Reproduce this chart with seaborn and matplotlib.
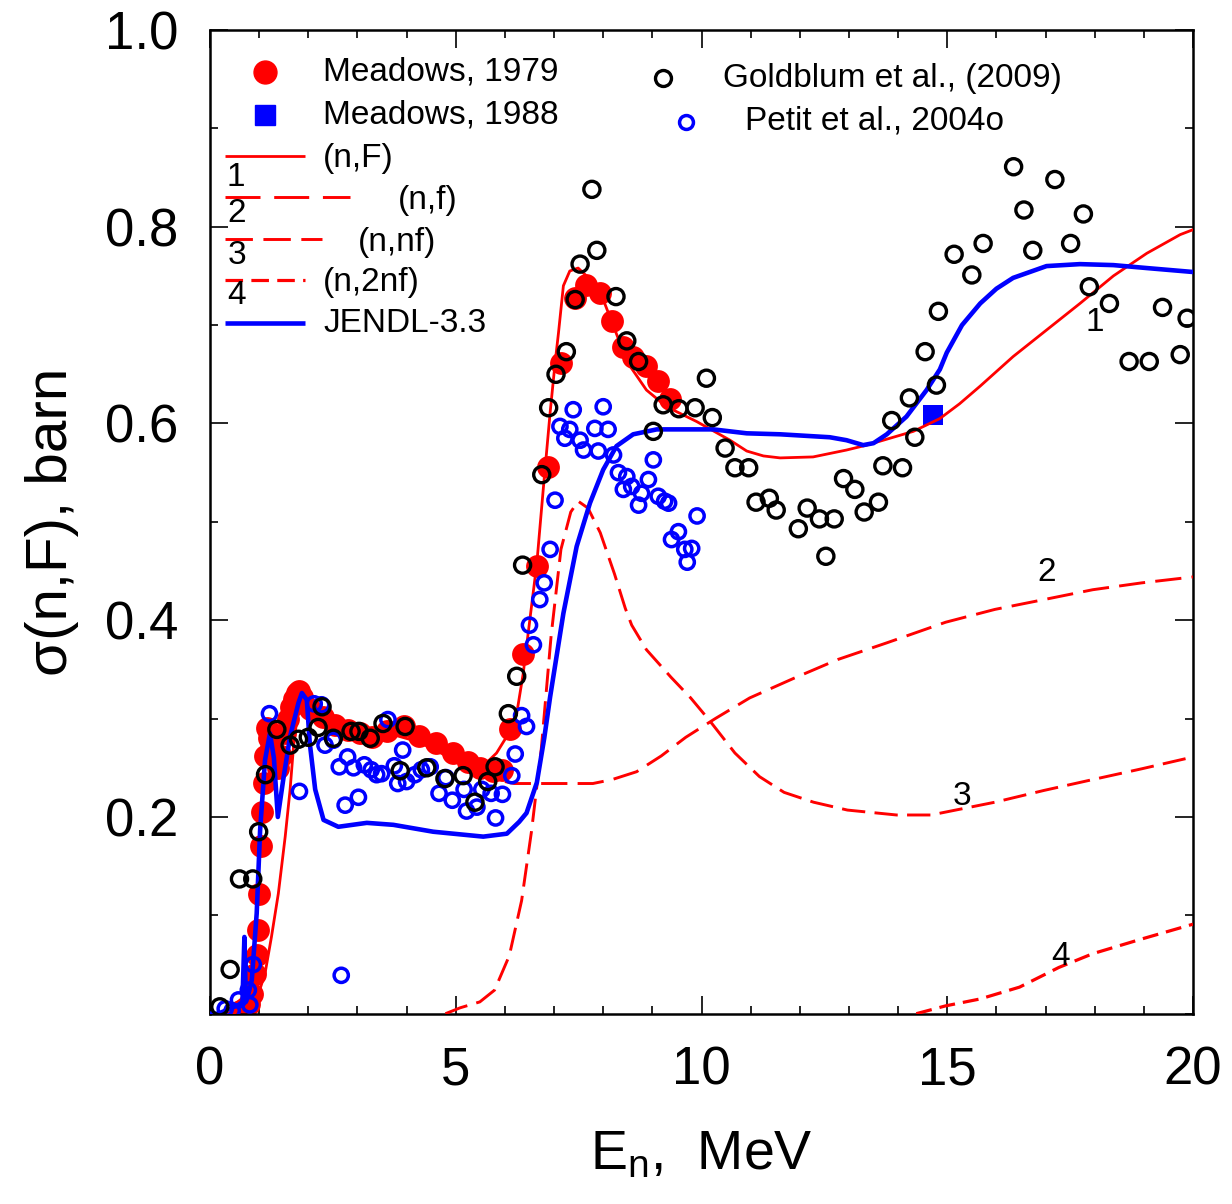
import numpy as np
import pandas as pd
import matplotlib
matplotlib.use("Agg")
import matplotlib.pyplot as plt
import seaborn as sns

# ---------------- data ----------------
meadows79_x = [0.62, 0.72, 0.80, 0.86, 0.92, 0.95, 0.98, 1.00, 1.03, 1.06, 1.09, 1.12, 1.15, 1.20, 1.25,
               1.30, 1.38, 1.45, 1.52, 1.58, 1.64, 1.70, 1.76, 1.82, 1.88, 2.03, 2.30, 2.55, 2.80, 3.05,
               3.30, 3.60, 3.95, 4.25, 4.60, 4.95, 5.25, 5.50, 5.75, 5.95, 6.10, 6.37, 6.65, 6.88, 7.14,
               7.43, 7.66, 7.93, 8.17, 8.41, 8.61, 8.88, 9.12, 9.36]
meadows79_y = [0.003, 0.006, 0.010, 0.020, 0.040, 0.060, 0.085, 0.122, 0.170, 0.205, 0.235, 0.262, 0.290,
               0.280, 0.270, 0.260, 0.250, 0.262, 0.285, 0.300, 0.312, 0.320, 0.326, 0.328, 0.322, 0.310,
               0.302, 0.293, 0.288, 0.285, 0.281, 0.287, 0.292, 0.282, 0.275, 0.265, 0.256, 0.250, 0.247,
               0.248, 0.289, 0.366, 0.455, 0.556, 0.661, 0.728, 0.741, 0.733, 0.704, 0.678, 0.668, 0.658,
               0.643, 0.625]

meadows88_x = [14.71]
meadows88_y = [0.609]

goldblum_x = [0.20, 0.41, 0.60, 0.87, 0.99, 1.13, 1.36, 1.63, 1.80, 2.00, 2.20, 2.28, 2.51, 2.87, 3.03,
              3.26, 3.52, 3.97, 3.87, 4.41, 4.78, 5.15, 5.39, 5.65, 5.80, 6.07, 6.24, 6.36, 6.75, 6.89,
              7.04, 7.25, 7.43, 7.53, 7.77, 7.87, 8.26, 8.48, 8.72, 9.02, 9.22, 9.54, 9.87, 10.10, 10.22,
              10.48, 10.68, 10.96, 11.11, 11.38, 11.52, 11.97, 12.15, 12.40, 12.53, 12.70, 12.89, 13.12,
              13.31, 13.60, 13.69, 13.87, 14.09, 14.23, 14.34, 14.55, 14.78, 14.82, 15.14, 15.50, 15.73,
              16.35, 16.56, 16.74, 17.19, 17.51, 17.77, 17.89, 18.30, 18.70, 19.11, 19.38, 19.74, 19.88]
goldblum_y = [0.007, 0.045, 0.137, 0.137, 0.185, 0.243, 0.289, 0.273, 0.279, 0.281, 0.291, 0.312, 0.280,
              0.287, 0.287, 0.280, 0.295, 0.292, 0.247, 0.250, 0.239, 0.242, 0.215, 0.236, 0.251, 0.305,
              0.343, 0.456, 0.548, 0.616, 0.650, 0.673, 0.726, 0.762, 0.838, 0.776, 0.729, 0.684, 0.663,
              0.592, 0.619, 0.615, 0.616, 0.646, 0.606, 0.575, 0.555, 0.555, 0.520, 0.524, 0.512, 0.493,
              0.514, 0.503, 0.465, 0.503, 0.544, 0.533, 0.510, 0.520, 0.557, 0.603, 0.555, 0.626, 0.586,
              0.673, 0.639, 0.714, 0.772, 0.751, 0.783, 0.861, 0.817, 0.776, 0.848, 0.783, 0.813, 0.739,
              0.722, 0.663, 0.663, 0.718, 0.670, 0.707]

petit_x = [0.31, 0.45, 0.58, 0.78, 0.81, 0.88, 1.21, 1.82, 2.12, 2.27, 2.34, 2.51, 2.63, 2.67, 2.75, 2.80,
           2.92, 3.02, 3.14, 3.28, 3.39, 3.49, 3.62, 3.75, 3.82, 3.92, 4.00, 4.17, 4.30, 4.48, 4.66, 4.80,
           4.93, 5.17, 5.22, 5.43, 5.53, 5.72, 5.81, 5.95, 6.14, 6.21, 6.34, 6.44, 6.50, 6.58, 6.71, 6.80,
           6.92, 7.02, 7.12, 7.22, 7.32, 7.39, 7.53, 7.60, 7.83, 7.90, 8.00, 8.10, 8.21, 8.31, 8.41, 8.48,
           8.58, 8.72, 8.78, 8.92, 9.02, 9.12, 9.25, 9.33, 9.39, 9.53, 9.66, 9.71, 9.80, 9.91]
petit_y = [0.005, 0.003, 0.014, 0.024, 0.009, 0.050, 0.305, 0.226, 0.315, 0.314, 0.273, 0.278, 0.251, 0.039,
           0.212, 0.261, 0.250, 0.220, 0.253, 0.248, 0.243, 0.244, 0.299, 0.252, 0.234, 0.268, 0.236, 0.243,
           0.248, 0.251, 0.224, 0.240, 0.217, 0.228, 0.206, 0.210, 0.228, 0.224, 0.199, 0.223, 0.242, 0.264,
           0.303, 0.292, 0.395, 0.375, 0.421, 0.438, 0.472, 0.522, 0.597, 0.585, 0.594, 0.614, 0.583, 0.573,
           0.595, 0.572, 0.617, 0.594, 0.568, 0.550, 0.533, 0.546, 0.536, 0.517, 0.529, 0.543, 0.563, 0.526,
           0.521, 0.519, 0.482, 0.490, 0.472, 0.459, 0.473, 0.506]

# curve 1: (n,F)
nF_x = [0.0, 0.5, 0.8, 0.92, 1.12, 1.25, 1.39, 1.53, 1.63, 1.70, 1.80, 1.90, 2.0, 2.3, 2.7, 3.2, 3.7, 4.2,
        4.6, 5.0, 5.3, 5.5, 5.83, 6.04, 6.24, 6.37, 6.65, 6.78, 6.92, 7.02, 7.09, 7.19, 7.32, 7.49, 7.66,
        8.0, 8.34, 8.55, 8.88, 9.29, 9.9, 10.58, 10.92, 11.26, 11.6, 12.27, 12.95, 13.36, 13.97, 14.31,
        14.85, 15.25, 15.67, 16.34, 17.02, 17.7, 18.38, 19.06, 19.74, 20.0]
nF_y = [0.0, 0.001, 0.004, 0.010, 0.041, 0.078, 0.122, 0.180, 0.228, 0.272, 0.312, 0.320, 0.314, 0.303,
        0.295, 0.288, 0.284, 0.277, 0.268, 0.256, 0.247, 0.249, 0.265, 0.282, 0.305, 0.345, 0.458, 0.533,
        0.611, 0.661, 0.692, 0.740, 0.755, 0.758, 0.750, 0.726, 0.682, 0.658, 0.634, 0.617, 0.602, 0.583,
        0.572, 0.567, 0.565, 0.566, 0.573, 0.578, 0.587, 0.592, 0.605, 0.620, 0.638, 0.668, 0.695, 0.722,
        0.750, 0.773, 0.792, 0.797]

# curve 2: (n,f)
nf_x = [6.0, 6.19, 7.0, 7.79, 8.18, 8.68, 9.18, 9.68, 10.28, 10.98, 11.88, 12.77, 13.77, 14.97, 15.97,
        16.97, 17.96, 18.96, 20.0]
nf_y = [0.236, 0.234, 0.234, 0.234, 0.238, 0.246, 0.262, 0.281, 0.300, 0.321, 0.341, 0.360, 0.377, 0.398,
        0.411, 0.421, 0.431, 0.438, 0.444]

# curve 3: (n,nf)
nnf_x = [4.79, 5.09, 5.49, 5.79, 6.09, 6.34, 6.54, 6.74, 6.94, 7.14, 7.34, 7.49, 7.69, 7.94, 8.23, 8.45,
         8.58, 8.88, 9.38, 9.78, 10.18, 10.68, 11.18, 11.68, 12.28, 12.97, 13.97, 14.67, 15.27, 15.97,
         16.97, 17.96, 18.96, 20.0]
nnf_y = [0.0, 0.006, 0.012, 0.024, 0.059, 0.115, 0.185, 0.269, 0.384, 0.472, 0.510, 0.521, 0.514, 0.489,
         0.447, 0.412, 0.395, 0.370, 0.342, 0.321, 0.297, 0.265, 0.241, 0.225, 0.215, 0.207, 0.202, 0.202,
         0.208, 0.215, 0.227, 0.238, 0.249, 0.261]

# curve 4: (n,2nf)
n2nf_x = [14.37, 14.97, 15.67, 16.47, 17.27, 17.96, 18.96, 20.0]
n2nf_y = [0.0, 0.008, 0.015, 0.027, 0.047, 0.061, 0.076, 0.091]

# JENDL-3.3
jendl_x = [0.0, 0.17, 0.58, 0.66, 0.70, 0.73, 0.78, 0.85, 0.95, 1.02, 1.12, 1.22, 1.30, 1.38, 1.49, 1.63,
           1.80, 1.87, 1.97, 2.03, 2.14, 2.31, 2.61, 3.19, 3.73, 4.54, 5.56, 6.04, 6.29, 6.44, 6.65, 6.80,
           6.92, 7.19, 7.46, 7.73, 8.00, 8.27, 8.61, 9.09, 9.56, 10.24, 10.92, 11.60, 12.61, 12.95, 13.29,
           13.50, 13.77, 14.17, 14.58, 14.85, 14.99, 15.30, 15.67, 16.00, 16.34, 17.02, 17.70, 18.38,
           19.06, 20.0]
jendl_y = [0.0, 0.0, 0.009, 0.012, 0.078, 0.012, 0.020, 0.034, 0.102, 0.187, 0.258, 0.285, 0.260, 0.200,
           0.238, 0.282, 0.316, 0.326, 0.319, 0.275, 0.228, 0.197, 0.190, 0.194, 0.192, 0.185, 0.180, 0.183,
           0.195, 0.204, 0.235, 0.280, 0.322, 0.407, 0.475, 0.519, 0.553, 0.577, 0.589, 0.594, 0.594, 0.594,
           0.590, 0.589, 0.586, 0.583, 0.578, 0.580, 0.589, 0.607, 0.634, 0.655, 0.672, 0.700, 0.722, 0.737,
           0.748, 0.760, 0.762, 0.761, 0.758, 0.754]

curve_labels = ["1", "2", "3", "4"]
curve_label_x = [18.0, 17.03, 15.3, 17.3]
curve_label_y = [0.703, 0.449, 0.221, 0.058]

x_ticks = [0, 5, 10, 15, 20]
y_ticks = [0.2, 0.4, 0.6, 0.8, 1.0]
y_ticklabels = ["0.2", "0.4", "0.6", "0.8", "1.0"]

# ---------------- style ----------------
sns.set_style("ticks")
plt.rcParams["font.family"] = ["Liberation Sans", "DejaVu Sans"]
plt.rcParams["mathtext.default"] = "regular"
plt.rcParams["text.color"] = "black"
plt.rcParams["axes.labelcolor"] = "black"
plt.rcParams["xtick.color"] = "black"
plt.rcParams["ytick.color"] = "black"

W, H = 1232, 1204
fig = plt.figure(figsize=(W / 100, H / 100), dpi=100)
L, R, T, B = 210, 1193, 30, 1013.7
ax = fig.add_axes([L / W, 1 - B / H, (R - L) / W, (B - T) / H])

RED = "#ff0000"
BLUE = "#0000ff"

# experimental points
sns.scatterplot(x=meadows79_x, y=meadows79_y, ax=ax, marker="o", s=270, color=RED,
                linewidth=0, zorder=2)
sns.scatterplot(x=meadows88_x, y=meadows88_y, ax=ax, marker="s", s=190, color=BLUE,
                linewidth=0, zorder=2)

# calculated curves
sns.lineplot(x=nF_x, y=nF_y, ax=ax, sort=False, estimator=None, color=RED, lw=2.0, zorder=3)
sns.lineplot(x=nf_x, y=nf_y, ax=ax, sort=False, estimator=None, color=RED, lw=2.1,
             linestyle=(0, (9, 3.5)), zorder=3)
sns.lineplot(x=nnf_x, y=nnf_y, ax=ax, sort=False, estimator=None, color=RED, lw=2.1,
             linestyle=(0, (8, 3.2)), zorder=3)
sns.lineplot(x=n2nf_x, y=n2nf_y, ax=ax, sort=False, estimator=None, color=RED, lw=2.3,
             linestyle=(0, (5, 2.5)), zorder=3)
sns.lineplot(x=jendl_x, y=jendl_y, ax=ax, sort=False, estimator=None, color=BLUE, lw=3.3, zorder=3)

sns.scatterplot(x=petit_x, y=petit_y, ax=ax, marker="o", s=105, facecolors="none",
                edgecolor=BLUE, linewidth=2.5, zorder=4)
sns.scatterplot(x=goldblum_x, y=goldblum_y, ax=ax, marker="o", s=135, facecolors="none",
                edgecolor="black", linewidth=2.4, zorder=5)

for lab, lx, ly in zip(curve_labels, curve_label_x, curve_label_y):
    ax.text(lx, ly, lab, fontsize=24, ha="center", va="center", zorder=6)

# ---------------- axes ----------------
ax.set_xlim(0, 20)
ax.set_ylim(0, 1.0)
ax.set_xticks(x_ticks)
ax.set_xticklabels([str(v) for v in x_ticks])
ax.set_xticks(np.arange(0, 21, 1), minor=True)
ax.set_yticks(y_ticks)
ax.set_yticklabels(y_ticklabels)
ax.set_yticks(np.arange(0, 1.01, 0.1), minor=True)
ax.tick_params(which="both", direction="in", top=True, right=True, width=1.2, colors="black")
ax.tick_params(which="major", length=13, labelsize=38, pad=23)
ax.tick_params(which="minor", length=6)
for sp in ax.spines.values():
    sp.set_visible(True)
    sp.set_linewidth(1.8)
    sp.set_color("black")

ax.set_xlabel(r"E$_{n}$,  MeV", fontsize=40, color="black")
ax.set_ylabel(r"σ(n,F), barn", fontsize=42, color="black")
ax.xaxis.set_label_coords(0.5, -0.118)
ax.yaxis.set_label_coords(-0.133, 0.5)


# ---------------- hand-made legend ----------------
def axf(px, py):
    return ((px - L) / (R - L), (B - py) / (B - T))


tr = ax.transAxes
leg_fs = 24

x0, y0 = axf(265, 72)
ax.plot([x0], [y0], marker="o", ms=16.5, color=RED, mec=RED, ls="none", transform=tr, clip_on=False)
ax.text(*axf(323, 72), "Meadows, 1979", fontsize=leg_fs, va="center", ha="left", transform=tr)
x0, y0 = axf(265, 115)
ax.plot([x0], [y0], marker="s", ms=14, color=BLUE, mec=BLUE, ls="none", transform=tr, clip_on=False)
ax.text(*axf(323, 115), "Meadows, 1988", fontsize=leg_fs, va="center", ha="left", transform=tr)

samples = [
    (156, 305, "-", 2.0, RED, "(n,F)", 323, 158),
    (197, 350, (0, (12, 4.7)), 2.1, RED, "(n,f)", 398, 200),
    (239, 322, (0, (9.4, 3.6)), 2.1, RED, "(n,nf)", 358, 242),
    (280, 305, (0, (5.5, 2.6)), 2.3, RED, "(n,2nf)", 323, 283),
    (323, 305, "-", 3.3, BLUE, "JENDL-3.3", 323, 323),
]
for (sy, sx1, ls, lw, col, lab, tx, ty) in samples:
    xa, ya = axf(225, sy)
    xb, _ = axf(sx1, sy)
    ax.plot([xa, xb], [ya, ya], ls=ls, lw=lw, color=col, transform=tr, clip_on=False,
            solid_capstyle="butt", dash_capstyle="butt")
    ax.text(*axf(tx, ty), lab, fontsize=leg_fs, va="center", ha="left", transform=tr)

for num, (nx, ny) in zip(["1", "2", "3", "4"], [(227, 178), (227, 213), (228, 256), (227, 295)]):
    ax.text(*axf(nx, ny), num, fontsize=leg_fs, va="center", ha="left", transform=tr)

x0, y0 = axf(663, 78)
ax.plot([x0], [y0], marker="o", ms=11.5, mfc="none", mec="black", mew=2.4, ls="none",
        transform=tr, clip_on=False)
ax.text(*axf(723, 79), "Goldblum et al., (2009)", fontsize=leg_fs, va="center", ha="left", transform=tr)
x0, y0 = axf(686, 122)
ax.plot([x0], [y0], marker="o", ms=10, mfc="none", mec=BLUE, mew=2.5, ls="none",
        transform=tr, clip_on=False)
ax.text(*axf(745, 121), "Petit et al., 2004o", fontsize=leg_fs, va="center", ha="left", transform=tr)

if ax.get_legend() is not None:
    ax.get_legend().remove()

fig.savefig("out.png", dpi=100)
